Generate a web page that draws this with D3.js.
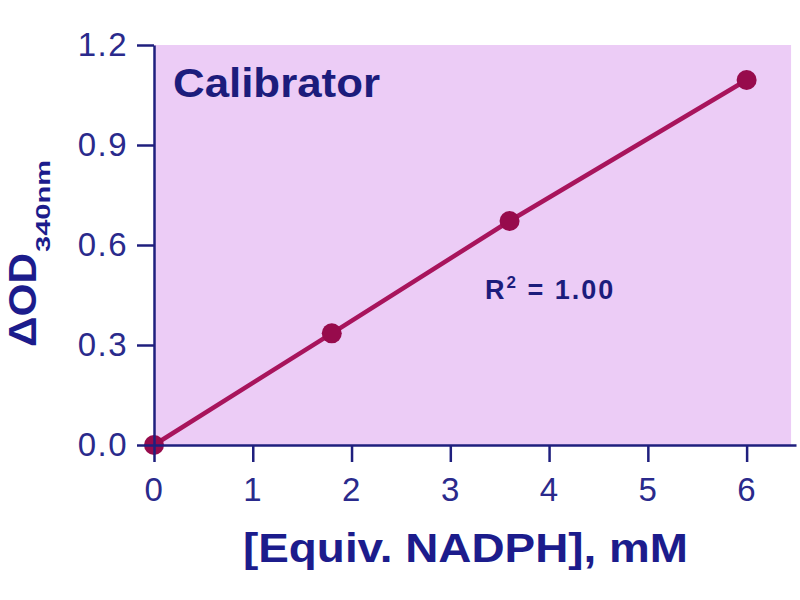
<!DOCTYPE html>
<html>
<head>
<meta charset="utf-8">
<script src="https://cdn.jsdelivr.net/npm/d3@7"></script>
<style>
    body { margin: 0; background: #fff; }
    text { font-family: "Liberation Sans", Arial, sans-serif; }
</style>
</head>
<body>
<div id="plot-area"><svg></svg></div>
<script>
// data
const xValues = [0, 1.8, 3.6, 6.0];
const yValues = [0.0, 0.335, 0.672, 1.095];
const xTicks = [0, 1, 2, 3, 4, 5, 6];
const yTicks = [0.0, 0.3, 0.6, 0.9, 1.2];

const navy = '#1f1f7e';
const lavender = '#ecccf6';
const lineColour = '#a8145c';
const pointColour = '#970b4c';

// viewport
let margin = {top: 45, right: 4, bottom: 155, left: 154},
    width = 800 - margin.left - margin.right,
    height = 600 - margin.top - margin.bottom;

let x = d3.scaleLinear().domain([0, 6.5]).range([0, width]);
let y = d3.scaleLinear().domain([0, 1.2]).range([height, 0]);

const points = xValues.map(function (d, i) {
    return {xValue: d, yValue: yValues[i]};
});

const valueline = d3.line()
    .x(function (d) { return x(d.xValue); })
    .y(function (d) { return y(d.yValue); });

let svg = d3.select('#plot-area').select('svg')
    .attr('width', 800)
    .attr('height', 600);

let g = svg.append('g')
    .attr('transform', 'translate(' + margin.left + ',' + margin.top + ')');

// plot background
g.append('rect')
    .attr('x', 0)
    .attr('y', 0)
    .attr('width', x(6.45))
    .attr('height', height)
    .style('fill', lavender);

// fitted line + points
g.append('path')
    .datum(points)
    .style('fill', 'none')
    .style('stroke', lineColour)
    .style('stroke-width', 4.5)
    .attr('d', valueline);

g.selectAll('.dot')
    .data(points)
    .enter().append('circle')
    .attr('class', 'dot')
    .attr('cx', function (d) { return x(d.xValue); })
    .attr('cy', function (d) { return y(d.yValue); })
    .attr('r', 10)
    .style('fill', pointColour);

// Add the X Axis
let xAxis = g.append('g')
    .attr('class', 'xaxis')
    .attr('transform', 'translate(0,' + height + ')')
    .call(d3.axisBottom(x)
        .tickValues(xTicks)
        .tickSize(17)
        .tickPadding(8)
        .tickSizeOuter(0)
        .tickFormat(d3.format('d')));

// Add the Y Axis
let yAxis = g.append('g')
    .attr('class', 'yaxis')
    .call(d3.axisLeft(y)
        .tickValues(yTicks)
        .tickSize(17)
        .tickPadding(9)
        .tickSizeOuter(0)
        .tickFormat(d3.format('.1f')));

[xAxis, yAxis].forEach(function (a) {
    a.select('.domain').style('stroke', navy).style('stroke-width', 2.5);
    a.selectAll('.tick line').style('stroke', navy).style('stroke-width', 2.5);
    a.selectAll('.tick text')
        .style('fill', '#2a2a8c')
        .style('font-size', '33px')
        .style('letter-spacing', '1.5px');
});
xAxis.selectAll('.tick text').attr('dy', '0.95em');

// Labelling
g.append('text')
    .attr('x', 19)
    .attr('y', 52)
    .attr('textLength', 207)
    .attr('lengthAdjust', 'spacingAndGlyphs')
    .style('font-size', '40px')
    .style('font-weight', 'bold')
    .style('fill', '#1c1c7c')
    .text('Calibrator');

let r2 = g.append('text')
    .attr('x', 331)
    .attr('y', 254)
    .style('font-size', '27px')
    .style('font-weight', 'bold')
    .style('letter-spacing', '2px')
    .style('fill', '#1c1c7c');
r2.append('tspan').text('R');
r2.append('tspan').attr('dy', -11).style('font-size', '17px').text('2');
r2.append('tspan').attr('dy', 11).text(' = 1.00');

svg.append('text')
    .attr('x', 243)
    .attr('y', 562)
    .attr('textLength', 445)
    .attr('lengthAdjust', 'spacingAndGlyphs')
    .style('font-size', '40px')
    .style('font-weight', 'bold')
    .style('fill', '#1c1c8c')
    .text('[Equiv. NADPH], mM');

let ylab = svg.append('g')
    .attr('transform', 'translate(36,347) rotate(-90)');
ylab.append('text')
    .attr('x', 0)
    .attr('y', 0)
    .attr('textLength', 94)
    .attr('lengthAdjust', 'spacingAndGlyphs')
    .style('font-size', '38px')
    .style('font-weight', 'bold')
    .style('fill', '#1c1c8c')
    .text('ΔOD');
ylab.append('text')
    .attr('x', 95)
    .attr('y', 14)
    .attr('textLength', 92)
    .attr('lengthAdjust', 'spacingAndGlyphs')
    .style('font-size', '21px')
    .style('font-weight', 'bold')
    .style('fill', '#1c1c8c')
    .text('340nm');
</script>
</body>
</html>
